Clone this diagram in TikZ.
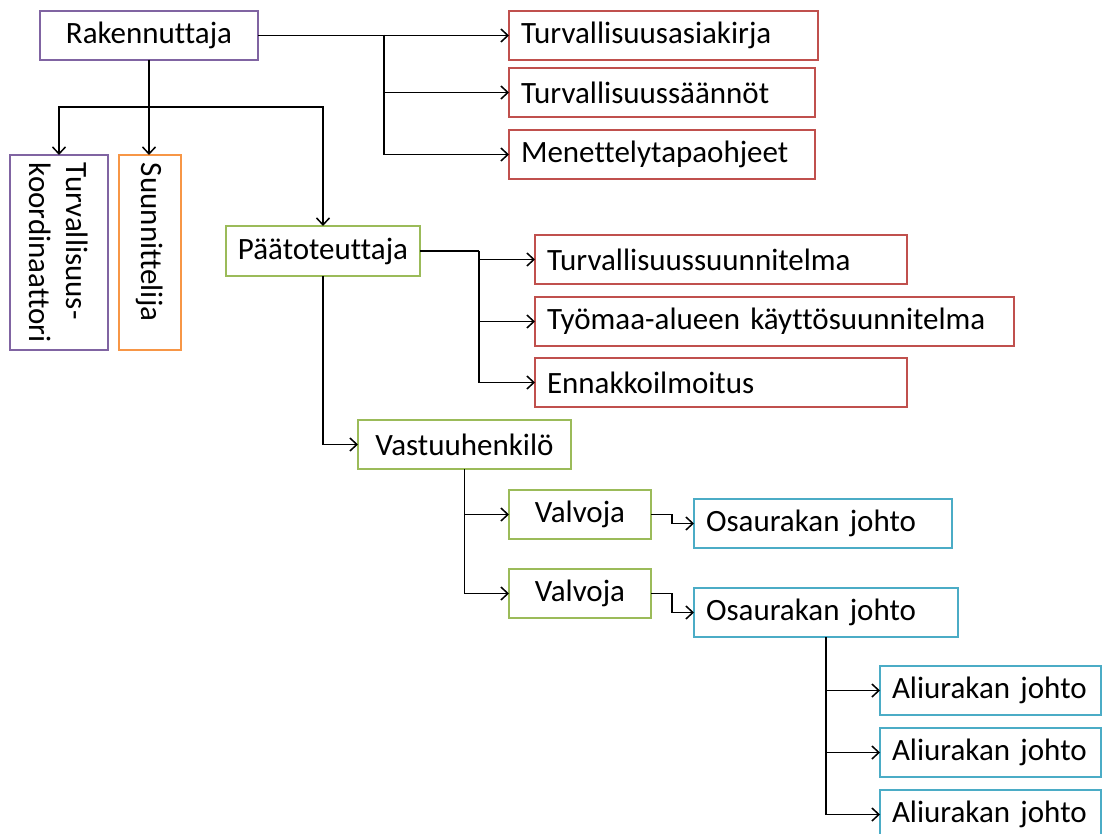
\documentclass[tikz,border=0pt]{standalone}
\usepackage{fontspec}
\setmainfont{Carlito}[Ligatures=CommonOff, WordSpace=0.85]
\usetikzlibrary{arrows.meta}
\definecolor{cpurple}{HTML}{8064A2}
\definecolor{corange}{HTML}{F79646}
\definecolor{cgreen}{HTML}{9BBB59}
\definecolor{cred}{HTML}{C0504D}
\definecolor{cblue}{HTML}{4BACC6}
\tikzset{
  bx/.style={draw=#1, line width=2.8pt, inner xsep=12pt, inner ysep=0pt,
    outer sep=0pt, anchor=north west, minimum height=49pt, align=left,
    font=\fontsize{31}{37}\selectfont},
  bxc/.style={draw=#1, line width=2.8pt, inner sep=0pt, outer sep=0pt,
    anchor=north west, minimum height=49pt, align=center,
    font=\fontsize{31}{37}\selectfont},
  bxr/.style={draw=#1, line width=2.8pt, inner xsep=8pt, inner ysep=0pt,
    outer sep=0pt, rotate=-90, minimum width=195pt, align=left,
    font=\fontsize{31}{37}\selectfont},
  ln/.style={line width=1.6pt, black},
  arr/.style={ln, -{Straight Barb[length=7pt,width=13pt,line width=1.5pt]}}
}
\begin{document}
\begin{tikzpicture}[x=1pt,y=-1pt]
\useasboundingbox (0,0) rectangle (1102,834);
\clip (0,0) rectangle (1102,834);

% client and its documents
\node[bxc=cpurple, minimum width=218pt] (rak) at (40,11) {Rakennuttaja};
\node[bx=cred, text width=285pt] (tva) at (509,11) {Turvallisuusasiakirja};
\node[bx=cred, text width=282pt] (tvs) at (509,68) {Turvallisuussäännöt};
\node[bx=cred, text width=282pt] (men) at (509,130) {Menettelytapaohjeet};

% coordinator and designer (vertical text)
\node[bxr=cpurple, minimum height=98pt, text width=179pt] (tk) at (59,252.5) {Turvallisuus-\\koordinaattori};
\node[bxr=corange, minimum height=62pt, text width=179pt] (suu) at (150,252.5) {Suunnittelija};

% main contractor and its documents
\node[bxc=cgreen, minimum width=194pt, minimum height=50pt] (paa) at (226,226) {Päätoteuttaja};
\node[bx=cred, text width=348pt] (tss) at (535,235) {Turvallisuussuunnitelma};
\node[bx=cred, text width=455pt] (tyo) at (535,297) {Työmaa-alueen käyttösuunnitelma};
\node[bx=cred, text width=348pt] (enn) at (535,358) {Ennakkoilmoitus};

% responsible person, supervisors, contractors
\node[bxc=cgreen, minimum width=213pt] (vas) at (358,420) {Vastuuhenkilö};
\node[bxc=cgreen, minimum width=142pt] (val1) at (509,490) {Valvoja};
\node[bxc=cgreen, minimum width=142pt] (val2) at (509,569) {Valvoja};
\node[bx=cblue, text width=234pt] (osa1) at (694,499) {Osaurakan johto};
\node[bx=cblue, text width=240pt] (osa2) at (694,588) {Osaurakan johto};
\node[bx=cblue, text width=197pt] (ali1) at (880,666) {Aliurakan johto};
\node[bx=cblue, text width=197pt] (ali2) at (880,728) {Aliurakan johto};
\node[bx=cblue, text width=197pt] (ali3) at (880,790) {Aliurakan johto};

% branch points
\coordinate (j1) at (384,35);
\coordinate (j2) at (149,107);
\coordinate (j3) at (479,251);

% connectors from the client
\draw[arr] (rak.east) -- (tva.west);
\draw[arr] (j1) |- (tvs.west);
\draw[arr] (j1) |- (men.west);
\draw[ln] (rak.south) -- (rak.south |- j2);
\draw[arr] (j2) -| (tk.west);
\draw[arr] (j2) -- (j2 |- suu.west);
\draw[arr] (j2) -| (paa.north);

% connectors from the main contractor
\draw[ln] (paa.east) -- (paa.east -| j3);
\draw[arr] (paa.east -| j3) |- (tss.west);
\draw[arr] (paa.east -| j3) |- (tyo.west);
\draw[arr] (paa.east -| j3) |- (enn.west);
\draw[arr] (paa.south) |- (vas.west);

% supervision chain
\draw[arr] (vas.south) |- (val1.west);
\draw[arr] (vas.south) |- (val2.west);
\draw[arr] (val1.east) -- ++(21,0) |- (osa1.west);
\draw[arr] (val2.east) -- ++(21,0) |- (osa2.west);
\draw[arr] (osa2.south) |- (ali1.west);
\draw[arr] (osa2.south) |- (ali2.west);
\draw[arr] (osa2.south) |- (ali3.west);
\end{tikzpicture}
\end{document}
